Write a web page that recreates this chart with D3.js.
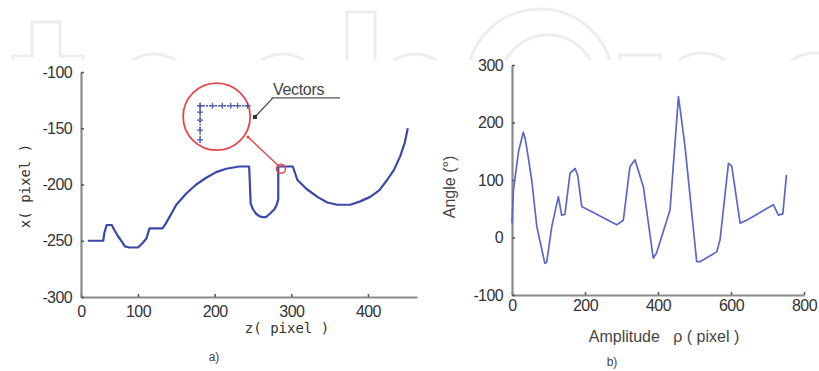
<!DOCTYPE html>
<html>
<head>
<meta charset="utf-8">
<script src="https://cdn.jsdelivr.net/npm/d3@7"></script>
<style>
  body { margin: 0; background: #fff; }
  svg { display: block; }
  .tick text { font-family: "Liberation Sans", Arial, sans-serif; font-size: 16px; fill: #333; letter-spacing: -0.6px; }
</style>
</head>
<body>
<div id="chart"></div>
<script>
// a) trajectory, z (pixel) vs x (pixel)
const trajZ = [12, 39, 41, 45, 54, 58, 65, 72, 77, 85, 100, 106, 111, 115, 132, 136, 141, 150, 163, 176, 189, 202, 215, 232, 245, 246, 247, 250, 254, 258, 262, 267, 272, 278, 281, 283, 283, 290, 302, 308, 320, 334, 347, 360, 377, 390, 403, 415, 425, 434, 442, 448, 452];
const trajX = [-250, -250, -243, -236, -236, -240, -246, -251, -255, -256, -256, -252, -248, -239, -239, -235, -229, -218, -208, -200, -194, -189, -186, -184, -184, -200, -217, -222, -226, -228, -229, -229, -226, -222, -218, -213, -184, -184, -184, -196, -204, -211, -216, -218, -218, -215, -211, -205, -196, -187, -175, -163, -150];

// zoomed vectors inside the annotation circle
const vecHz = [181, 197, 210, 221, 230, 243];
const vecHx = [-130, -130, -130, -130, -130, -130];
const vecVz = [181, 181, 181, 181, 181];
const vecVx = [-130, -135.6, -142.7, -151.6, -160.4];

// b) angle vs amplitude rho
const rho = [0, 4, 18, 31, 36, 40, 54, 68, 90, 95, 109, 127, 136, 145, 159, 173, 180, 191, 287, 305, 323, 337, 360, 387, 396, 433, 456, 461, 474, 488, 506, 515, 561, 570, 593, 602, 625, 643, 716, 730, 742, 752];
const angle = [25, 83, 150, 183, 172, 158, 100, 19, -45, -43, 19, 71, 39, 40, 112, 120, 108, 54, 22, 30, 123, 135, 88, -36, -27, 48, 245, 222, 158, 71, -42, -42, -25, -4, 129, 124, 25, 30, 57, 39, 41, 109];

const leftYTicks = [-300, -250, -200, -150, -100];
const leftXTicks = [0, 100, 200, 300, 400];
const rightYTicks = [-100, 0, 100, 200, 300];
const rightXTicks = [0, 200, 400, 600, 800];

const W = 819, H = 371;
const svg = d3.select('#chart').append('svg').attr('width', W).attr('height', H);
svg.append('rect').attr('width', W).attr('height', H).attr('fill', '#fff');

// faint watermark at the top
const wm = svg.append('g').attr('fill', 'none').attr('stroke', '#ededed').attr('stroke-width', 3);
svg.append('clipPath').attr('id', 'wmclip').append('rect').attr('width', W).attr('height', 60);
wm.attr('clip-path', 'url(#wmclip)');
wm.append('path').attr('d', 'M13,60 V56 H32 V22 H60 V56 H83 V60');
wm.append('circle').attr('cx', 154).attr('cy', 92).attr('r', 38);
wm.append('circle').attr('cx', 283).attr('cy', 92).attr('r', 38);
wm.append('path').attr('d', 'M347,60 V12 H375 V60');
wm.append('circle').attr('cx', 415).attr('cy', 92).attr('r', 38);
wm.append('circle').attr('cx', 540).attr('cy', 82).attr('r', 73);
wm.append('circle').attr('cx', 548).attr('cy', 83).attr('r', 48);
wm.append('path').attr('d', 'M620,60 V55 H660 V60');
wm.append('circle').attr('cx', 702).attr('cy', 94).attr('r', 41);
wm.append('circle').attr('cx', 815).attr('cy', 94).attr('r', 41);

const axisColor = '#8a8a8a';
const fmt = d => String(d); // plain hyphen minus, as in the figure
function styleAxis(g) {
  g.select('.domain').attr('stroke', axisColor).attr('stroke-width', 2.2);
  g.selectAll('.tick line').attr('stroke', '#555').attr('stroke-width', 1.5);
}

// ---------- left chart ----------
const xL = d3.scaleLinear().domain([0, 100, 464]).range([81, 138, 417]);
const yL = d3.scaleLinear().domain([-300, -100]).range([297, 72]);

const gL = svg.append('g');
gL.append('g').attr('transform', `translate(0,${yL(-300)})`)
  .call(d3.axisBottom(xL).tickValues(leftXTicks).tickFormat(fmt).tickSize(-3).tickPadding(9).tickSizeOuter(0))
  .call(styleAxis);
gL.append('g').attr('transform', `translate(${xL(0)},0)`)
  .call(d3.axisLeft(yL).tickValues(leftYTicks).tickFormat(fmt).tickSize(-3).tickPadding(9).tickSizeOuter(0))
  .call(styleAxis);

const lineL = d3.line().x((d, i) => xL(trajZ[i])).y((d, i) => yL(trajX[i]));
gL.append('path').datum(trajZ).attr('d', lineL)
  .attr('fill', 'none').attr('stroke', '#3b48a6').attr('stroke-width', 2.2)
  .attr('stroke-linejoin', 'round');

// annotation: red circles and connector
const red = '#e8474f';
gL.append('line')
  .attr('x1', xL(243.5)).attr('y1', yL(-157.8)).attr('x2', xL(285)).attr('y2', yL(-184.5))
  .attr('stroke', red).attr('stroke-width', 1.5);
gL.append('circle').attr('cx', xL(202.6)).attr('cy', yL(-139.7)).attr('r', 33.5)
  .attr('fill', 'none').attr('stroke', red).attr('stroke-width', 1.8);
gL.append('circle').attr('cx', xL(286.5)).attr('cy', yL(-186)).attr('r', 4.5)
  .attr('fill', 'none').attr('stroke', red).attr('stroke-width', 1.5);
gL.append('circle').attr('cx', xL(243.5)).attr('cy', yL(-157.8)).attr('r', 1.5).attr('fill', red);

// zoomed vectors
const vecColor = '#4a55b0';
gL.append('line').attr('x1', xL(181)).attr('x2', xL(247)).attr('y1', yL(-130)).attr('y2', yL(-130))
  .attr('stroke', vecColor).attr('stroke-width', 1.3).attr('stroke-dasharray', '2,1');
gL.append('line').attr('x1', xL(181)).attr('x2', xL(181)).attr('y1', yL(-130)).attr('y2', yL(-163))
  .attr('stroke', vecColor).attr('stroke-width', 1.3).attr('stroke-dasharray', '2,1');
const markers = vecHz.map((z, i) => [z, vecHx[i]]).concat(vecVz.map((z, i) => [z, vecVx[i]]));
gL.selectAll('.vec').data(markers).enter().append('path')
  .attr('transform', d => `translate(${xL(d[0])},${yL(d[1])})`)
  .attr('stroke', vecColor).attr('stroke-width', 1.2)
  .attr('d', 'M-3,0H3M0,-3V3');

// "Vectors" label with leader
gL.append('line').attr('x1', xL(252.6)).attr('y1', yL(-140)).attr('x2', xL(276)).attr('y2', yL(-123))
  .attr('stroke', '#444').attr('stroke-width', 1.2);
gL.append('line').attr('x1', xL(274)).attr('y1', yL(-123)).attr('x2', xL(363.5)).attr('y2', yL(-123))
  .attr('stroke', '#555').attr('stroke-width', 1.2);
gL.append('rect').attr('x', xL(252.6) - 2).attr('y', yL(-140) - 2).attr('width', 4).attr('height', 4).attr('fill', '#333');
gL.append('text').attr('x', xL(276)).attr('y', yL(-123) - 3)
  .attr('font-family', '"Liberation Sans", Arial, sans-serif').attr('font-size', 16).attr('fill', '#444')
  .attr('letter-spacing', -0.3).text('Vectors');

gL.append('text').attr('transform', 'translate(30,186) rotate(-90)').attr('text-anchor', 'middle')
  .attr('font-family', '"DejaVu Sans Mono", monospace').attr('font-size', 14).attr('fill', '#333')
  .text('x( pixel )');
gL.append('text').attr('x', 287).attr('y', 333).attr('text-anchor', 'middle')
  .attr('font-family', '"DejaVu Sans Mono", monospace').attr('font-size', 14).attr('fill', '#333')
  .text('z( pixel )');
gL.append('text').attr('x', 214).attr('y', 361).attr('text-anchor', 'middle')
  .attr('font-family', '"Liberation Sans", Arial, sans-serif').attr('font-size', 12).attr('fill', '#444')
  .text('a)');

// ---------- right chart ----------
const xR = d3.scaleLinear().domain([0, 800]).range([512, 804]);
const yR = d3.scaleLinear().domain([-100, 300]).range([295, 65]);

const gR = svg.append('g');
gR.append('g').attr('transform', `translate(0,${yR(-100)})`)
  .call(d3.axisBottom(xR).tickValues(rightXTicks).tickFormat(fmt).tickSize(-3).tickPadding(5).tickSizeOuter(0))
  .call(styleAxis);
gR.append('g').attr('transform', `translate(${xR(0)},0)`)
  .call(d3.axisLeft(yR).tickValues(rightYTicks).tickFormat(fmt).tickSize(-3).tickPadding(9).tickSizeOuter(0))
  .call(styleAxis);

const lineR = d3.line().x((d, i) => xR(rho[i])).y((d, i) => yR(angle[i]));
gR.append('path').datum(rho).attr('d', lineR)
  .attr('fill', 'none').attr('stroke', '#5e66c8').attr('stroke-width', 1.7).attr('stroke-linejoin', 'round');

gR.append('text').attr('transform', 'translate(455,187) rotate(-90)').attr('text-anchor', 'middle')
  .attr('font-family', '"Liberation Sans", Arial, sans-serif').attr('font-size', 16).attr('fill', '#444')
  .text('Angle (°)');
gR.append('text').attr('x', 664).attr('y', 342).attr('text-anchor', 'middle')
  .attr('font-family', '"Liberation Sans", Arial, sans-serif').attr('font-size', 16).attr('fill', '#444')
  .attr('xml:space', 'preserve')
  .text('Amplitude   ρ ( pixel )');
gR.append('text').attr('x', 612).attr('y', 366).attr('text-anchor', 'middle')
  .attr('font-family', '"Liberation Sans", Arial, sans-serif').attr('font-size', 12).attr('fill', '#444')
  .text('b)');
</script>
</body>
</html>
